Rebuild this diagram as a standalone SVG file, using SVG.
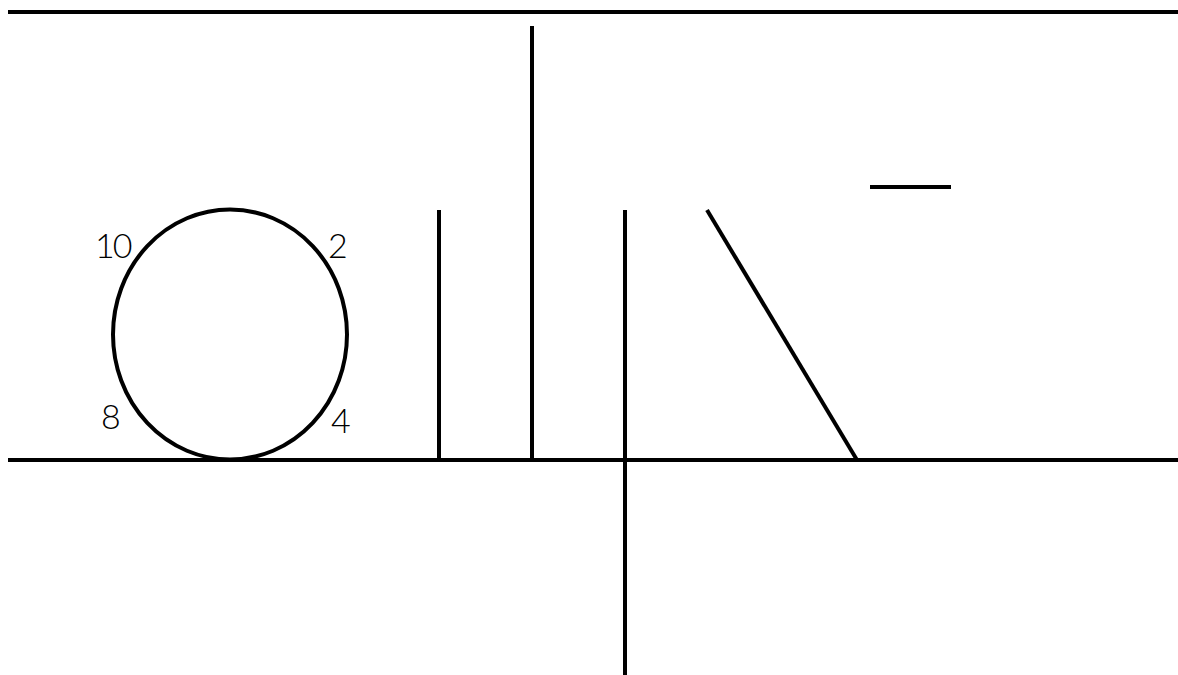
<svg xmlns="http://www.w3.org/2000/svg" width="1178" height="675" viewBox="0 0 1178 675">
<style>
.ln{stroke:#000;stroke-width:4;fill:none;stroke-linecap:butt}
.num{font-family:"Lato","DejaVu Sans",sans-serif;font-weight:300;font-size:34px;fill:#000}
</style>
<rect width="1178" height="675" fill="#fff"/>
<g id="guides">
<line class="ln" x1="8" y1="12" x2="1178" y2="12"/>
<line class="ln" x1="8" y1="460" x2="1178" y2="460"/>
</g>
<g id="circle">
<ellipse class="ln" cx="230" cy="334.5" rx="117" ry="125"/>
<text class="num" x="95" y="258" letter-spacing="-2">10</text>
<text class="num" x="328" y="258">2</text>
<text class="num" x="101" y="429">8</text>
<text class="num" x="331" y="433">4</text>
</g>
<g id="strokes">
<line class="ln" x1="439" y1="210" x2="439" y2="460"/>
<line class="ln" x1="532" y1="26" x2="532" y2="460"/>
<line class="ln" x1="625" y1="210" x2="625" y2="675"/>
<line class="ln" x1="707" y1="210" x2="857" y2="460"/>
<line class="ln" x1="870" y1="187" x2="951" y2="187"/>
</g>
</svg>
